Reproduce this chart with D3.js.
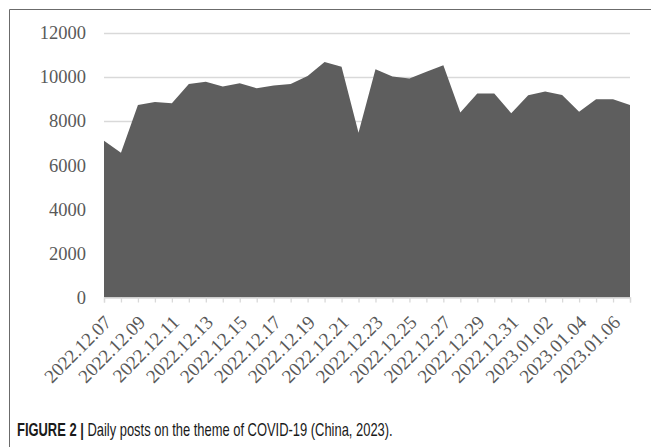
<!DOCTYPE html>
<html>
<head>
<meta charset="utf-8">
<script src="https://cdn.jsdelivr.net/npm/d3@7"></script>
<style>
  html, body { margin: 0; padding: 0; background: #fff; }
  svg { display: block; }
</style>
</head>
<body>
<svg id="chart" width="651" height="447"></svg>
<script>
// Daily post counts, 2022.12.07 – 2023.01.07
const dates = [
  "2022.12.07", "2022.12.08", "2022.12.09", "2022.12.10", "2022.12.11", "2022.12.12",
  "2022.12.13", "2022.12.14", "2022.12.15", "2022.12.16", "2022.12.17", "2022.12.18",
  "2022.12.19", "2022.12.20", "2022.12.21", "2022.12.22", "2022.12.23", "2022.12.24",
  "2022.12.25", "2022.12.26", "2022.12.27", "2022.12.28", "2022.12.29", "2022.12.30",
  "2022.12.31", "2023.01.01", "2023.01.02", "2023.01.03", "2023.01.04", "2023.01.05",
  "2023.01.06", "2023.01.07"
];
const posts = [
  7100, 6560, 8720, 8860, 8800, 9680,
  9780, 9560, 9710, 9480, 9610, 9670,
  10040, 10670, 10460, 7470, 10340, 10010,
  9930, 10230, 10530, 8380, 9250, 9250,
  8350, 9170, 9330, 9180, 8420, 8980,
  8980, 8720
];
const yTicks = [0, 2000, 4000, 6000, 8000, 10000, 12000];
const captionBold = "FIGURE 2 |";
const captionText = " Daily posts on the theme of COVID-19 (China, 2023).";

const serif = "'Liberation Serif', 'Times New Roman', serif";
const svg = d3.select("#chart");

// outer figure frame (left and top edges)
svg.append("path")
  .attr("d", "M9.5,447 V9.5 H651")
  .attr("fill", "none")
  .attr("stroke", "#6b6b6b")
  .attr("stroke-width", 1);

const x = d3.scalePoint().domain(dates).range([104, 630]);
const y = d3.scaleLinear().domain([0, 12000]).range([297.5, 32.7]);

// horizontal gridlines
svg.append("g")
  .selectAll("line")
  .data(yTicks.filter(d => d > 0))
  .join("line")
  .attr("x1", 104).attr("x2", 630)
  .attr("y1", d => Math.round(y(d)) + 0.5)
  .attr("y2", d => Math.round(y(d)) + 0.5)
  .attr("stroke", "#d9d9d9")
  .attr("stroke-width", 1.3);

// y axis labels
const yAxis = d3.axisLeft(y).tickValues(yTicks).tickSize(0).tickPadding(0).tickFormat(d3.format("d"));
svg.append("g")
  .attr("transform", "translate(86,0)")
  .call(yAxis)
  .call(g => g.select(".domain").remove())
  .selectAll("text")
  .attr("font-family", serif)
  .attr("font-size", 18.5)
  .attr("fill", "#595959");

// area
const area = d3.area()
  .x(d => x(d.date))
  .y0(y(0))
  .y1(d => y(d.value));
const series = dates.map((d, i) => ({ date: d, value: posts[i] }));
svg.append("path")
  .datum(series)
  .attr("d", area)
  .attr("fill", "#5e5e5e");

// x axis with a tick per day, labels every other day
const xAxis = d3.axisBottom(x)
  .tickSize(5)
  .tickPadding(0)
  .tickFormat((d, i) => (i % 2 === 0 ? d : ""));
const gx = svg.append("g")
  .attr("transform", `translate(0,${y(0)})`)
  .call(xAxis);
gx.select(".domain").attr("stroke", "#d9d9d9").attr("stroke-width", 1.3);
gx.selectAll(".tick line").attr("stroke", "#d9d9d9").attr("stroke-width", 1.3);
gx.selectAll(".tick text")
  .attr("font-family", serif)
  .attr("font-size", 19)
  .attr("fill", "#595959")
  .attr("text-anchor", "end")
  .attr("x", 0)
  .attr("y", 0)
  .attr("dy", null)
  .attr("transform", "translate(8,26) rotate(-45)");

// caption
const cap = svg.append("text")
  .attr("font-family", "'Liberation Sans', Arial, sans-serif")
  .attr("font-size", 17.5)
  .attr("fill", "#1a1a1a");
cap.append("tspan").attr("font-weight", "bold").text(captionBold);
cap.append("tspan").text(captionText);
const capWidth = cap.node().getComputedTextLength();
cap.attr("transform", `translate(17,436) scale(${376 / capWidth},1)`);
</script>
</body>
</html>
